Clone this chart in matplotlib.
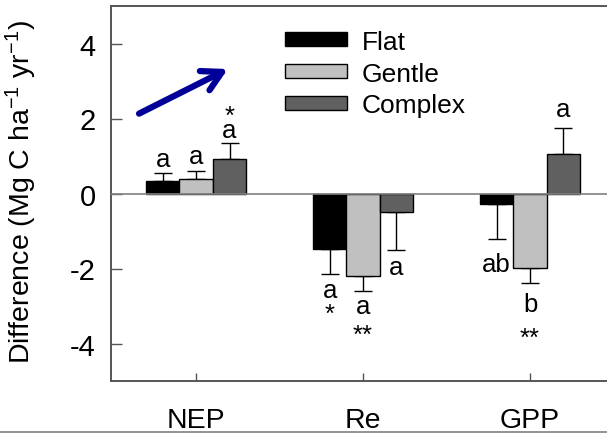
import matplotlib
matplotlib.use("Agg")
import matplotlib.pyplot as plt
import numpy as np
from matplotlib.lines import Line2D

plt.rcParams['font.family'] = ['Liberation Sans', 'DejaVu Sans']
plt.rcParams['mathtext.default'] = 'regular'
plt.rcParams['axes.unicode_minus'] = False

categories = ["NEP", "Re", "GPP"]
series = ["Flat", "Gentle", "Complex"]
values = {
    "Flat":    [0.33, -1.48, -0.27],
    "Gentle":  [0.40, -2.20, -1.99],
    "Complex": [0.92, -0.49, 1.06],
}
errors = {
    "Flat":    [0.23, 0.66, 0.95],
    "Gentle":  [0.20, 0.41, 0.40],
    "Complex": [0.43, 1.01, 0.69],
}
colors = {"Flat": "#000000", "Gentle": "#C0C0C0", "Complex": "#606060"}

# letter / significance annotations: (category index, series index, text, y)
annotations = [
    (0, 0, "a", 0.93), (0, 1, "a", 1.01), (0, 2, "a", 1.70), (0, 2, "*", 2.06),
    (1, 0, "a", -2.58), (1, 0, "*", -3.2), (1, 1, "a", -3.0), (1, 1, "**", -3.76),
    (1, 2, "a", -1.97),
    (2, 0, "ab", -1.89), (2, 1, "b", -2.94), (2, 1, "**", -3.84),
    (2, 2, "a", 2.26),
]

fig = plt.figure(figsize=(6.07, 4.35), dpi=100)
ax = fig.add_axes([111/607, 53/435, 502.5/607, 375/435])

x = np.arange(len(categories))
width = 0.2
for i, s in enumerate(series):
    pos = x + (i - 1) * width
    vals = np.array(values[s])
    errs = np.array(errors[s])
    ax.bar(pos, vals, width, color=colors[s], edgecolor="black", linewidth=1.0,
           label=s, zorder=2)
    lower = np.where(vals < 0, errs, 0)
    upper = np.where(vals >= 0, errs, 0)
    ax.errorbar(pos, vals, yerr=[lower, upper], fmt="none", ecolor="black",
                elinewidth=1.0, capsize=6.5, capthick=1.0, zorder=1)

for ci, si, txt, y in annotations:
    ax.text(x[ci] + (si - 1) * width, y, txt, ha="center", va="center", fontsize=18.5)

ax.axhline(0, color="#808080", linewidth=1.2, zorder=3)

ax.set_xlim(-0.51, 2.5)
ax.set_ylim(-5, 5)
ax.set_yticks([-4, -2, 0, 2, 4])
ax.set_xticks(x)
ax.set_xticklabels(categories)
ax.tick_params(axis="both", direction="in", length=6, width=1, color="#555555")
ax.tick_params(axis="x", labelsize=20.5, pad=18.5)
ax.tick_params(axis="y", labelsize=21, length=8, pad=11)
for sp in ax.spines.values():
    sp.set_color("#555555")
    sp.set_linewidth(1.4)

ax.set_ylabel("Difference (Mg C ha$^{-1}$ yr$^{-1}$)", fontsize=20.5)
ax.yaxis.set_label_coords((39 - 111) / 502.5, 0.507)

ax.legend(loc="upper left", bbox_to_anchor=(0.346, 0.937), frameon=False,
          borderpad=0, borderaxespad=0, fontsize=19, handlelength=2.35,
          handleheight=0.42, labelspacing=0.3, handletextpad=0.57)

ax.annotate("", xy=(0.19, 3.32), xytext=(-0.342, 2.13),
            arrowprops=dict(arrowstyle="->,head_length=1.0,head_width=0.55",
                            mutation_scale=14, color="#000099", lw=4.5,
                            shrinkA=0, shrinkB=0))

fig.add_artist(Line2D([0, 1], [2/435, 2/435], transform=fig.transFigure,
                      color="#808080", linewidth=1.2))

fig.savefig("out.png", dpi=100)
